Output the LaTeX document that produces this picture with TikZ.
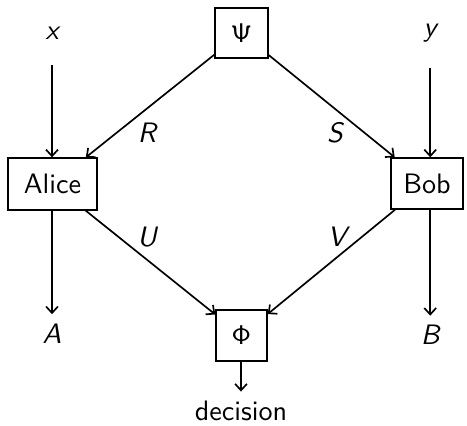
\documentclass[tikz,border=0pt]{standalone}
\usetikzlibrary{arrows.meta}
\begin{document}
\begin{tikzpicture}[x=0.37pt,y=-0.37pt,
  every node/.style={font=\fontsize{10.4pt}{12pt}\selectfont\sffamily},
  box/.style={draw,line width=0.5pt,inner sep=0pt},
  lab/.style={font=\fontsize{10.4pt}{12pt}\selectfont\sffamily\itshape,inner sep=3.33pt},
  arr/.style={-{Straight Barb[length=2.4pt,width=4.4pt]},line width=0.62pt},
  inarr/.style={arr,shorten <=5.9pt}]
\useasboundingbox (0,0) rectangle (467,425);
\node[box,minimum width=19.6pt,minimum height=18.5pt] (psi) at (241.5,33) {$\mathsf{\Psi}$};
\node[box,minimum width=32.9pt,minimum height=19.2pt] (alice) at (52.5,184) {Alice};
\node[box,minimum width=26.6pt,minimum height=18.9pt] (bob) at (427,183.5) {Bob};
\node[box,minimum width=18.9pt,minimum height=18.9pt] (phi) at (241.5,335.5) {$\mathsf{\Phi}$};
\node[lab] (x) at (52,33.5) {x};
\node[lab] (y) at (430.2,33) {y};
\node[lab] (A) at (52,333.5) {A};
\node[lab] (B) at (430.2,335) {B};
\node[inner sep=3.33pt] (dec) at (241,411) {decision};
\node[lab] (R) at (147,133) {R};
\node[lab] (S) at (335,133) {S};
\node[lab] (U) at (147,237) {U};
\node[lab] (V) at (337,237) {V};
\draw[inarr] (x) -- (x |- alice.north);
\draw[inarr] (y) -- (y |- bob.north);
\draw[arr] (A |- alice.south) -- (A);
\draw[arr] (B |- bob.south) -- (B);
\draw[arr] (psi) -- (alice);
\draw[arr] (psi) -- (bob);
\draw[arr] (alice) -- (phi);
\draw[arr] (bob) -- (phi);
\draw[arr] (dec |- phi.south) -- (dec);
\end{tikzpicture}
\end{document}
